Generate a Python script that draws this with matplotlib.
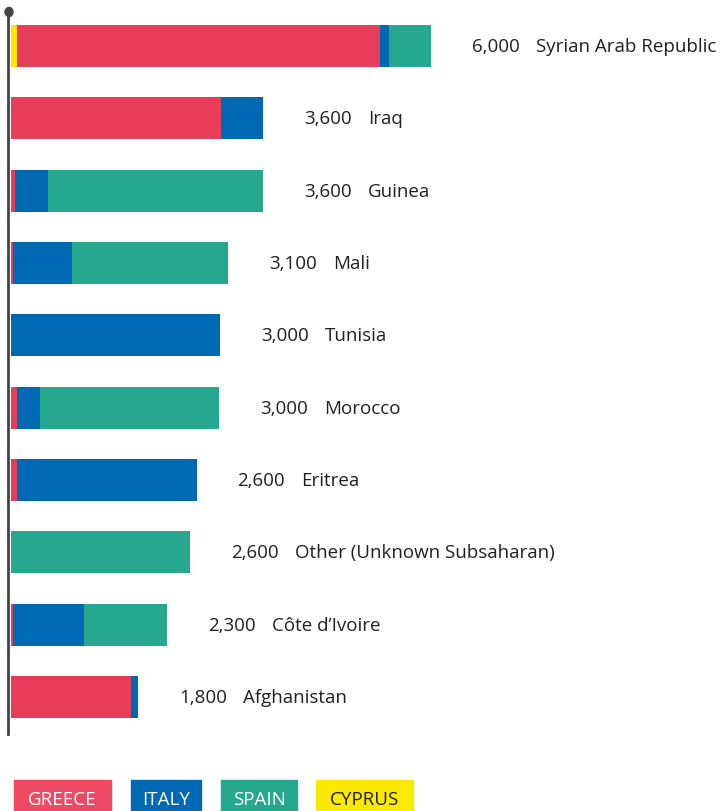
import matplotlib.pyplot as plt
from matplotlib.patches import Rectangle

countries = ["Syrian Arab Republic", "Iraq", "Guinea", "Mali", "Tunisia", "Morocco",
             "Eritrea", "Other (Unknown Subsaharan)", "Côte d\u2019Ivoire", "Afghanistan"]
totals = ["6,000", "3,600", "3,600", "3,100", "3,000", "3,000", "2,600", "2,600", "2,300", "1,800"]
cyprus = [90, 0, 0, 0, 0, 0, 0, 0, 0, 0]
greece = [5180, 3000, 60, 30, 0, 80, 90, 0, 30, 1710]
italy = [130, 600, 470, 840, 2990, 330, 2560, 0, 1010, 110]
spain = [600, 0, 3070, 2230, 0, 2560, 0, 2560, 1190, 0]

series = [("CYPRUS", cyprus, "#FFE500"), ("GREECE", greece, "#E83D5A"),
          ("ITALY", italy, "#0069B4"), ("SPAIN", spain, "#26A88E")]

plt.rcParams['font.family'] = ['Open Sans', 'DejaVu Sans']
fig = plt.figure(figsize=(7.23, 8.12), dpi=100)
ax = fig.add_axes([11/723, 77/812, 712/723, 722/812])

ypos = list(range(len(countries)))
left = [0] * len(countries)
for name, vals, col in series:
    ax.barh(ypos, vals, left=left, height=0.58, color=col)
    left = [a + b for a, b in zip(left, vals)]

for i in ypos:
    ax.annotate(totals[i], xy=(left[i], i), xytext=(41, 0), textcoords='offset pixels',
                va='center', ha='left', fontsize=13.5, color='#231f20')
    ax.annotate(countries[i], xy=(left[i], i), xytext=(105, 0), textcoords='offset pixels',
                va='center', ha='left', fontsize=13.5, color='#231f20')

ax.set_xlim(0, 10170)
ax.set_ylim(9.51, -0.47)
for s in ['top', 'right', 'bottom']:
    ax.spines[s].set_visible(False)
ax.spines['left'].set_color('#444444')
ax.spines['left'].set_linewidth(2)
ax.spines['left'].set_position(('outward', 2))
ax.set_xticks([])
ax.set_yticks([])
ax.set_facecolor('none')

# dot on top of the axis line
fig.patches.append(plt.Circle((9/723, (812-13)/812), 4/723, transform=fig.transFigure,
                              color='#444444'))

# legend boxes
leg_names = ["GREECE", "ITALY", "SPAIN", "CYPRUS"]
leg_colors = ["#EF4A63", "#0069B4", "#26A88E", "#F9EA00"]
leg_text = ["white", "white", "white", "#231f20"]
leg_x = [14, 131, 221, 316]
leg_w = [97, 70, 76, 97]
for n, c, tc, x0, w in zip(leg_names, leg_colors, leg_text, leg_x, leg_w):
    fig.patches.append(Rectangle((x0/723, 0), w/723, 31/812, transform=fig.transFigure,
                                 color=c))
    fig.text((x0 + w/2)/723, 12/812, n, ha='center', va='center', color=tc, fontsize=13.5)

plt.savefig("out.png", dpi=100)
